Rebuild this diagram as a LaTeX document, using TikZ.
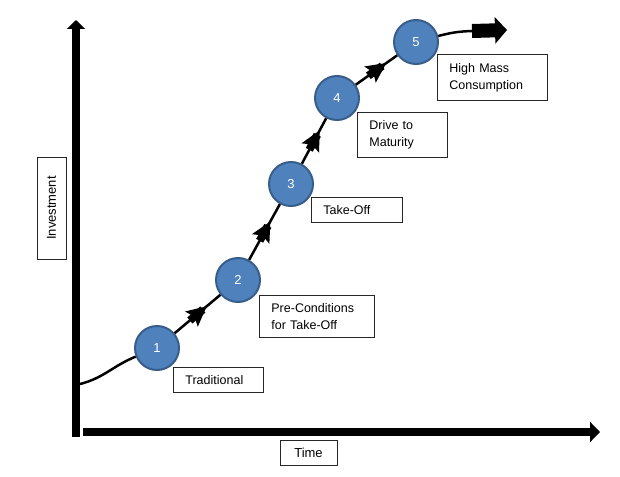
\documentclass[tikz,border=0pt]{standalone}
\usepackage{fontspec}
\setmainfont{Liberation Sans}
\usetikzlibrary{arrows.meta,decorations.markings}
\definecolor{stagefill}{HTML}{4F81BD}
\definecolor{stageedge}{HTML}{385D8A}
\tikzset{
  stagecircle/.style={circle, fill=stagefill, draw=stageedge, line width=2pt,
    minimum size=44pt, inner sep=0pt, text=white, font=\fontsize{13}{15}\selectfont},
  stagebox/.style={draw=black!85, line width=0.8pt, align=left, inner xsep=12pt,
    inner ysep=0pt, anchor=north west, font=\fontsize{12.5}{17}\selectfont},
  labelbox/.style={draw=black!85, line width=0.8pt, align=center, inner sep=0pt,
    font=\fontsize{13}{15}\selectfont},
  curve/.style={line width=2.5pt, black},
  midarrow/.style={curve, postaction={decorate}, decoration={markings,
    mark=at position 0.5 with {
      \fill[black] (-10pt,-4pt) rectangle (7pt,4pt);
      \fill[black] (12pt,0pt) -- (-8pt,10pt) -- (-4pt,0pt) -- (-8pt,-10pt) -- cycle;
    }}},
  axisline/.style={line width=8.5pt, black},
}
\begin{document}
\begin{tikzpicture}[x=1pt,y=-1pt]
\useasboundingbox (0,0) rectangle (620,476);
% axes
\coordinate (yb) at (76,437);
\coordinate (yt) at (76,20);
\coordinate (xl) at (83,432);
\coordinate (xr) at (600,432);
\draw[axisline, -{Triangle[width=18pt,length=9pt]}] (yb) -- (yt);
\draw[axisline, -{Triangle[width=20pt,length=10pt]}] (xl) -- (xr);
% axis labels
\node[labelbox, rotate=90, minimum width=102pt, minimum height=29pt] (inv) at (51.5,208) {Investment};
\node[labelbox, minimum width=57pt, minimum height=25pt] (time) at (308.5,452.5) {Time};
% stages
\node[stagecircle] (c1) at (157,348) {1};
\node[stagecircle] (c2) at (238,280) {2};
\node[stagecircle] (c3) at (291,184) {3};
\node[stagecircle] (c4) at (337,98) {4};
\node[stagecircle] (c5) at (416,42) {5};
% curve
\coordinate (s) at (80,384);
\coordinate (e1) at (472,31);
\coordinate (e2) at (507,30);
\draw[curve] (s) to[out=14,in=202] (c1);
\draw[midarrow] (c1) -- (c2);
\draw[midarrow] (c2) -- (c3);
\draw[midarrow] (c3) -- (c4);
\draw[midarrow] (c4) -- (c5);
\draw[curve] (c5) to[out=15,in=182] (e1);
\draw[line width=14pt, -{Triangle[width=26pt,length=12pt]}] (e1) -- (e2);
% labels
\node[stagebox, text width=66pt, minimum height=25pt] (l1) at (173,367) {Traditional};
\node[stagebox, text width=91pt, minimum height=42pt] (l2) at (259,295) {Pre-Conditions\\for Take-Off};
\node[stagebox, text width=67pt, minimum height=25pt] (l3) at (311,197) {Take-Off};
\node[stagebox, text width=66pt, minimum height=45pt] (l4) at (357,112) {Drive to\\Maturity};
\node[stagebox, text width=86pt, minimum height=46pt] (l5) at (437,54) {High Mass\\Consumption};
\end{tikzpicture}
\end{document}
